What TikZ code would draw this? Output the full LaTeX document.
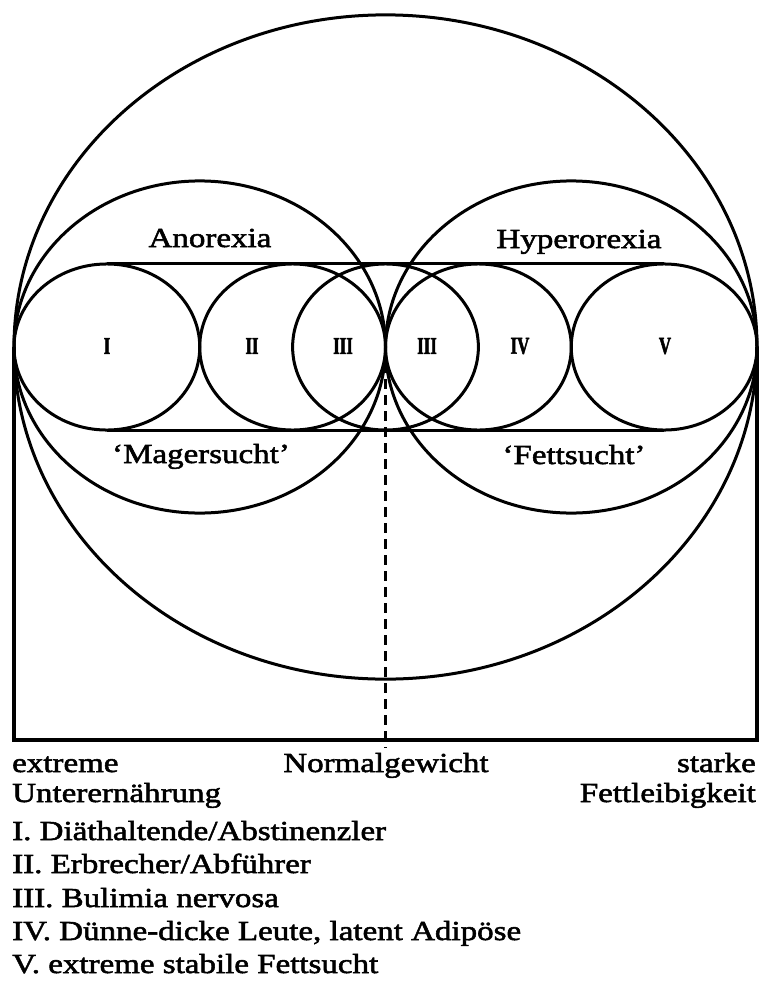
\documentclass[tikz,border=0pt]{standalone}
\usepackage{fontspec}
\setmainfont{Liberation Serif}[FakeStretch=1.2, FakeBold=2]
\newfontfamily\numeralfont{Liberation Serif Bold}[FakeStretch=0.7, FakeBold=2]
\begin{document}
\begin{tikzpicture}[x=1pt, y=-1pt,
  ring/.style={line width=3pt},
  axisline/.style={line width=3.4pt, line join=miter},
  normline/.style={line width=3.4pt, dash pattern=on 10pt off 6pt},
  txt/.style={font=\fontsize{27.5}{30}\selectfont, inner sep=0pt},
  num/.style={font=\numeralfont\fontsize{24}{24}\selectfont, inner sep=0pt}]
\useasboundingbox (0,0) rectangle (761,983);

% centre of the scale (normal weight)
\coordinate (C) at (385.5,347);

% circles, drawn round and flattened to the page's proportions
\begin{scope}[shift={(C)}, yscale=0.894]
  \draw[ring] (0,0) circle (371.5);
  \draw[ring] (-185.75,0) circle (185.75);
  \draw[ring] (185.75,0) circle (185.75);
  \foreach \cx in {-278.625,-92.875,0,92.875,278.625}
    \draw[ring] (\cx,0) circle (92.875);
  \coordinate (TL) at (-278.625,-92.875);
  \coordinate (TR) at (278.625,-92.875);
  \coordinate (UL) at (-278.625,92.875);
  \coordinate (UR) at (278.625,92.875);
\end{scope}
\draw[ring] (TL) -- (TR);
\draw[ring] (UL) -- (UR);

% weight axis
\coordinate (L) at (14,347);
\coordinate (R) at (757,347);
\coordinate (BL) at (14,740);
\coordinate (BR) at (757,740);
\coordinate (N) at (385.5,748);
\draw[axisline] (L) -- (BL) -- (BR) -- (R);
\draw[normline] (C) -- (N);

% group numerals
\node[num] (n1) at (107,346) {I};
\node[num] (n2) at (252,346) {II};
\node[num] (n3a) at (343,346) {III};
\node[num] (n3b) at (427,346) {III};
\node[num] (n4) at (520,346) {IV};
\node[num] (n5) at (665,346) {V};

% circle titles
\node[txt, anchor=base] (ano) at (210,247) {Anorexia};
\node[txt, anchor=base] (hyp) at (579,248) {Hyperorexia};
\node[txt, anchor=base] (mag) at (201,463) {`Magersucht'};
\node[txt, anchor=base] (fett) at (574,464) {`Fettsucht'};

% axis labels
\node[txt, anchor=base west] (ext) at (12,772) {extreme};
\node[txt, anchor=base] (norm) at (386,772) {Normalgewicht};
\node[txt, anchor=base east] (sta) at (756,772) {starke};
\node[txt, anchor=base west] (unt) at (12,802) {Unterernährung};
\node[txt, anchor=base east] (fet) at (756,802) {Fettleibigkeit};

% key
\node[txt, anchor=base west] (k1) at (12,840) {I. Diäthaltende/Abstinenzler};
\node[txt, anchor=base west] (k2) at (12,873) {II. Erbrecher/Abführer};
\node[txt, anchor=base west] (k3) at (12,907) {III. Bulimia nervosa};
\node[txt, anchor=base west] (k4) at (12,940) {IV. Dünne-dicke Leute, latent Adipöse};
\node[txt, anchor=base west] (k5) at (12,973) {V. extreme stabile Fettsucht};
\end{tikzpicture}
\end{document}
